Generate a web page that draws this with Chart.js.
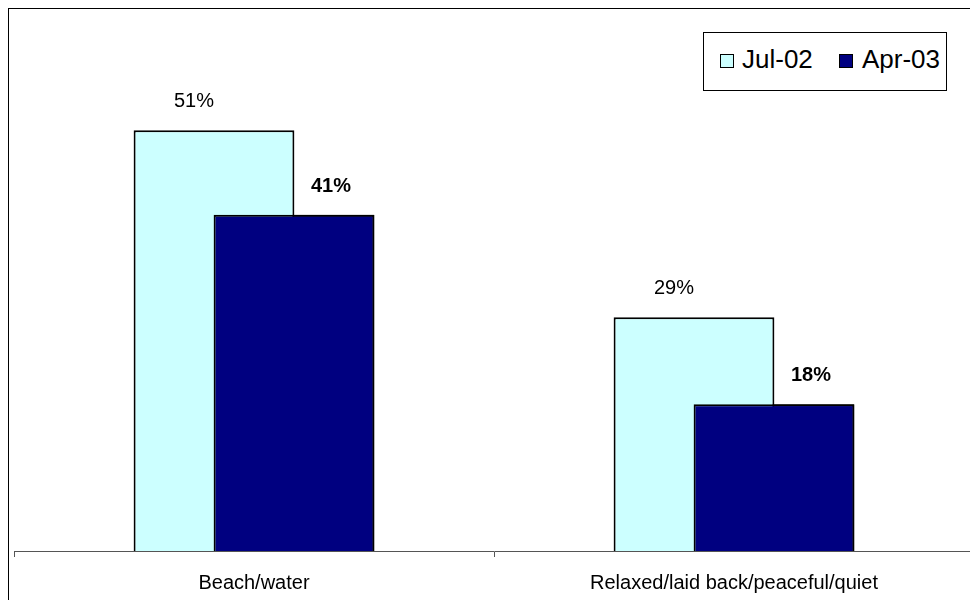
<!DOCTYPE html>
<html>
<head>
<meta charset="utf-8">
<title>Beach/water vs Relaxed</title>
<script src="https://cdn.jsdelivr.net/npm/chart.js@4/dist/chart.umd.min.js"></script>
<style>
  html, body { margin: 0; padding: 0; background: #fff; overflow: hidden; }
  #wrap { position: relative; width: 970px; height: 600px; overflow: hidden; }
  #chart { position: absolute; left: 0; top: 0; }
  #frame {
    position: absolute; left: 8px; top: 8px; width: 1000px; height: 1000px;
    border-left: 1px solid #000; border-top: 1px solid #000; pointer-events: none;
  }
  #legend {
    position: absolute; left: 703px; top: 32px; width: 244px; height: 59px;
    box-sizing: border-box; border: 1px solid #000; background: #fff;
    font-family: "Liberation Sans", Arial, sans-serif; font-size: 26px; color: #000;
  }
  .swatch { position: absolute; top: 21px; width: 14px; height: 14px; box-sizing: border-box; border: 1px solid #000; }
  .lbl { position: absolute; top: 13px; line-height: 26px; white-space: nowrap; }
</style>
</head>
<body>
<div id="wrap">
  <canvas id="chart" width="980" height="616"></canvas>
  <div id="frame"></div>
  <div id="legend"></div>
</div>
<script>
// datos
const categories = ['Beach/water', 'Relaxed/laid back/peaceful/quiet'];
const seriesNames = ['Jul-02', 'Apr-03'];
const jul02 = [51.3, 28.5];
const apr03 = [41.0, 17.9];

const colors = ['#CCFFFF', '#000080'];
const FONT = '"Liberation Sans", Arial, sans-serif';

// Chart.js pinta el primer dataset encima; volvemos a pintar Apr-03 para que quede delante
const frontSeries = {
  id: 'frontSeries',
  afterDatasetsDraw(chart) {
    const meta = chart.getDatasetMeta(1);
    const ctx = chart.ctx;
    ctx.save();
    meta.data.forEach(bar => bar.draw(ctx));
    ctx.restore();
  }
};

// etiquetas de valor encima de cada barra
const valueLabels = {
  id: 'valueLabels',
  afterDatasetsDraw(chart, args, opts) {
    const ctx = chart.ctx;
    ctx.save();
    ctx.fillStyle = '#000';
    ctx.textAlign = 'center';
    ctx.textBaseline = 'alphabetic';
    chart.data.datasets.forEach((ds, di) => {
      const meta = chart.getDatasetMeta(di);
      ctx.font = (opts.bold[di] ? 'bold ' : '') + '20px ' + FONT;
      meta.data.forEach((bar, i) => {
        const txt = Math.round(ds.data[i]) + '%';
        ctx.fillText(txt, bar.x + opts.shift[di], bar.y - 23);
      });
    });
    ctx.restore();
  }
};

function buildLegend() {
  const legend = document.getElementById('legend');
  const swatchX = [16, 135];
  const textX = [38, 158];
  legend.innerHTML = seriesNames.map((name, i) => `
    <span class="swatch" style="left:${swatchX[i]}px;background:${colors[i]}"></span>
    <span class="lbl" style="left:${textX[i]}px">${name}</span>
  `).join('');
}

function createChart() {
  const ctx = document.getElementById('chart');
  return new Chart(ctx, {
    type: 'bar',
    data: {
      labels: categories,
      datasets: [{
        label: seriesNames[0],
        data: jul02,
        backgroundColor: colors[0],
        borderColor: '#000',
        borderWidth: 2
      }, {
        label: seriesNames[1],
        data: apr03,
        backgroundColor: colors[1],
        borderColor: '#000',
        borderWidth: 2
      }]
    },
    options: {
      responsive: false,
      animation: false,
      devicePixelRatio: 1,
      categoryPercentage: 1 / 3,
      barPercentage: 2.01,
      layout: {
        padding: { left: 14, right: 6, top: 59, bottom: 7 }
      },
      plugins: {
        legend: { display: false },
        tooltip: { enabled: false },
        valueLabels: {
          shift: [-20, 37],
          bold: [false, true]
        }
      },
      scales: {
        x: {
          offset: true,
          grid: {
            display: true,
            offset: true,
            drawOnChartArea: false,
            drawTicks: true,
            tickLength: 6,
            color: '#555'
          },
          border: { display: true, color: '#555', width: 1 },
          ticks: {
            color: '#000',
            font: { family: FONT, size: 20 },
            padding: 14,
            maxRotation: 0,
            autoSkip: false
          }
        },
        y: {
          display: false,
          min: 0,
          max: 60
        }
      }
    },
    plugins: [frontSeries, valueLabels]
  });
}

buildLegend();
createChart();
</script>
</body>
</html>
